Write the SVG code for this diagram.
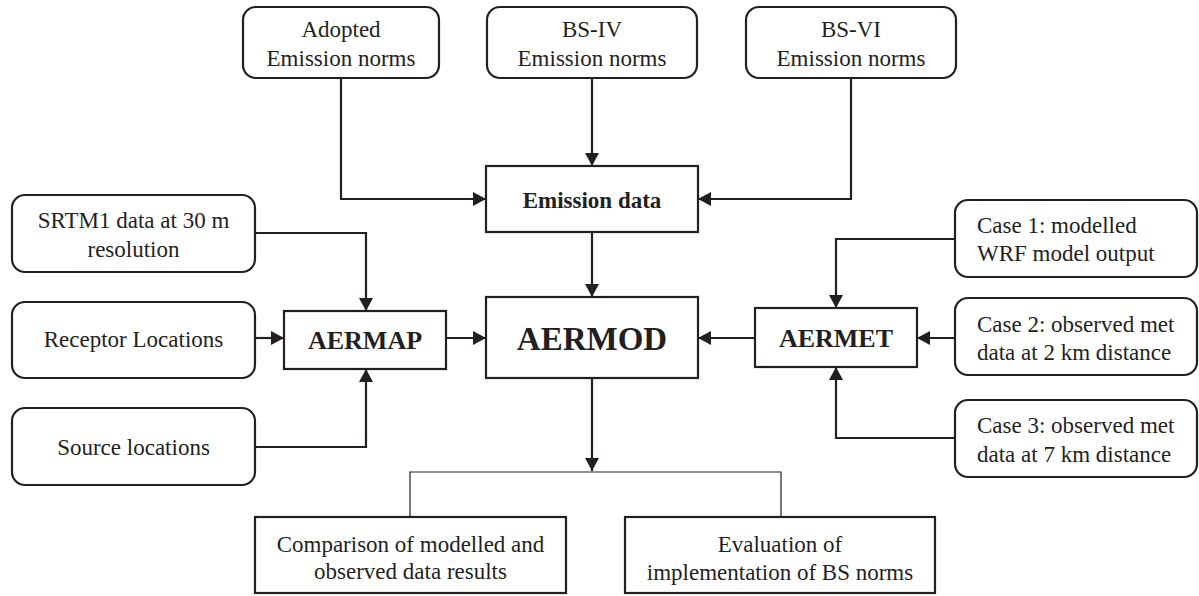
<svg xmlns="http://www.w3.org/2000/svg" width="1199" height="596" viewBox="0 0 1199 596">
<defs>
<style>
.box{fill:#fff;stroke:#231f20;stroke-width:2.2}
.t{font-family:"Liberation Serif","Times New Roman",serif;font-size:23px;fill:#231f20;text-anchor:middle}
.l{text-anchor:start}
.b{font-weight:bold}
.c{fill:none;stroke:#231f20;stroke-width:2.2}
.thin{fill:none;stroke:#231f20;stroke-width:1.2}
</style>
<marker id="arr" viewBox="0 0 13 14" refX="13" refY="7" markerWidth="13" markerHeight="14" markerUnits="userSpaceOnUse" orient="auto">
<path d="M0,0 L13,7 L0,14 z" fill="#231f20"/>
</marker>
</defs>
<rect width="1199" height="596" fill="#fff"/>
<g id="connectors">
<path class="c" d="M341,78 V199 H486" marker-end="url(#arr)"/>
<path class="c" d="M592,78 V166" marker-end="url(#arr)"/>
<path class="c" d="M851,78 V199 H698" marker-end="url(#arr)"/>
<path class="c" d="M592,232 V297" marker-end="url(#arr)"/>
<path class="c" d="M255,233 H366 V311" marker-end="url(#arr)"/>
<path class="c" d="M255,338 H284" marker-end="url(#arr)"/>
<path class="c" d="M446,338 H486" marker-end="url(#arr)"/>
<path class="c" d="M255,447 H366 V369" marker-end="url(#arr)"/>
<path class="c" d="M955,239 H836 V308" marker-end="url(#arr)"/>
<path class="c" d="M955,338 H917" marker-end="url(#arr)"/>
<path class="c" d="M955,438 H836 V367" marker-end="url(#arr)"/>
<path class="c" d="M755,338 H698" marker-end="url(#arr)"/>
<path class="c" d="M592,378 V471" marker-end="url(#arr)"/>
<path class="thin" d="M410,517 V472 H781 V517"/>
</g>
<g id="adopted">
<rect class="box" x="243" y="7" width="196" height="71" rx="13"/>
<text class="t" x="341" y="37">Adopted</text>
<text class="t" x="341" y="66">Emission norms</text>
</g>
<g id="bs4">
<rect class="box" x="487" y="7" width="210" height="71" rx="13"/>
<text class="t" x="592" y="37">BS-IV</text>
<text class="t" x="592" y="66">Emission norms</text>
</g>
<g id="bs6">
<rect class="box" x="746" y="7" width="210" height="71" rx="13"/>
<text class="t" x="851" y="37">BS-VI</text>
<text class="t" x="851" y="66">Emission norms</text>
</g>
<g id="emission">
<rect class="box" x="486" y="166" width="212" height="66"/>
<text class="t b" x="592" y="208">Emission data</text>
</g>
<g id="aermod">
<rect class="box" x="486" y="297" width="212" height="81"/>
<text class="t b" x="592" y="350" style="font-size:33px">AERMOD</text>
</g>
<g id="srtm">
<rect class="box" x="12" y="195" width="243" height="77" rx="13"/>
<text class="t" x="133.5" y="228">SRTM1 data at 30 m</text>
<text class="t" x="133.5" y="257">resolution</text>
</g>
<g id="receptor">
<rect class="box" x="12" y="302" width="243" height="76" rx="13"/>
<text class="t" x="133.5" y="347">Receptor Locations</text>
</g>
<g id="source">
<rect class="box" x="12" y="408" width="243" height="77" rx="13"/>
<text class="t" x="133.5" y="455">Source locations</text>
</g>
<g id="aermap">
<rect class="box" x="284" y="311" width="162" height="58"/>
<text class="t b" x="365" y="349" style="font-size:26px">AERMAP</text>
</g>
<g id="aermet">
<rect class="box" x="755" y="308" width="162" height="59"/>
<text class="t b" x="836" y="347" style="font-size:26px">AERMET</text>
</g>
<g id="case1">
<rect class="box" x="955" y="200" width="242" height="77" rx="13"/>
<text class="t l" x="977" y="233">Case 1: modelled</text>
<text class="t l" x="977" y="261">WRF model output</text>
</g>
<g id="case2">
<rect class="box" x="955" y="298" width="242" height="77" rx="13"/>
<text class="t l" x="977" y="332">Case 2: observed met</text>
<text class="t l" x="977" y="360">data at 2 km distance</text>
</g>
<g id="case3">
<rect class="box" x="955" y="400" width="242" height="77" rx="13"/>
<text class="t l" x="977" y="433">Case 3: observed met</text>
<text class="t l" x="977" y="462">data at 7 km distance</text>
</g>
<g id="comparison">
<rect class="box" x="255" y="517" width="311" height="76"/>
<text class="t" x="410.5" y="552">Comparison of modelled and</text>
<text class="t" x="410.5" y="579">observed data results</text>
</g>
<g id="evaluation">
<rect class="box" x="625" y="517" width="310" height="76"/>
<text class="t" x="780" y="552">Evaluation of</text>
<text class="t" x="780" y="580">implementation of BS norms</text>
</g>
</svg>
